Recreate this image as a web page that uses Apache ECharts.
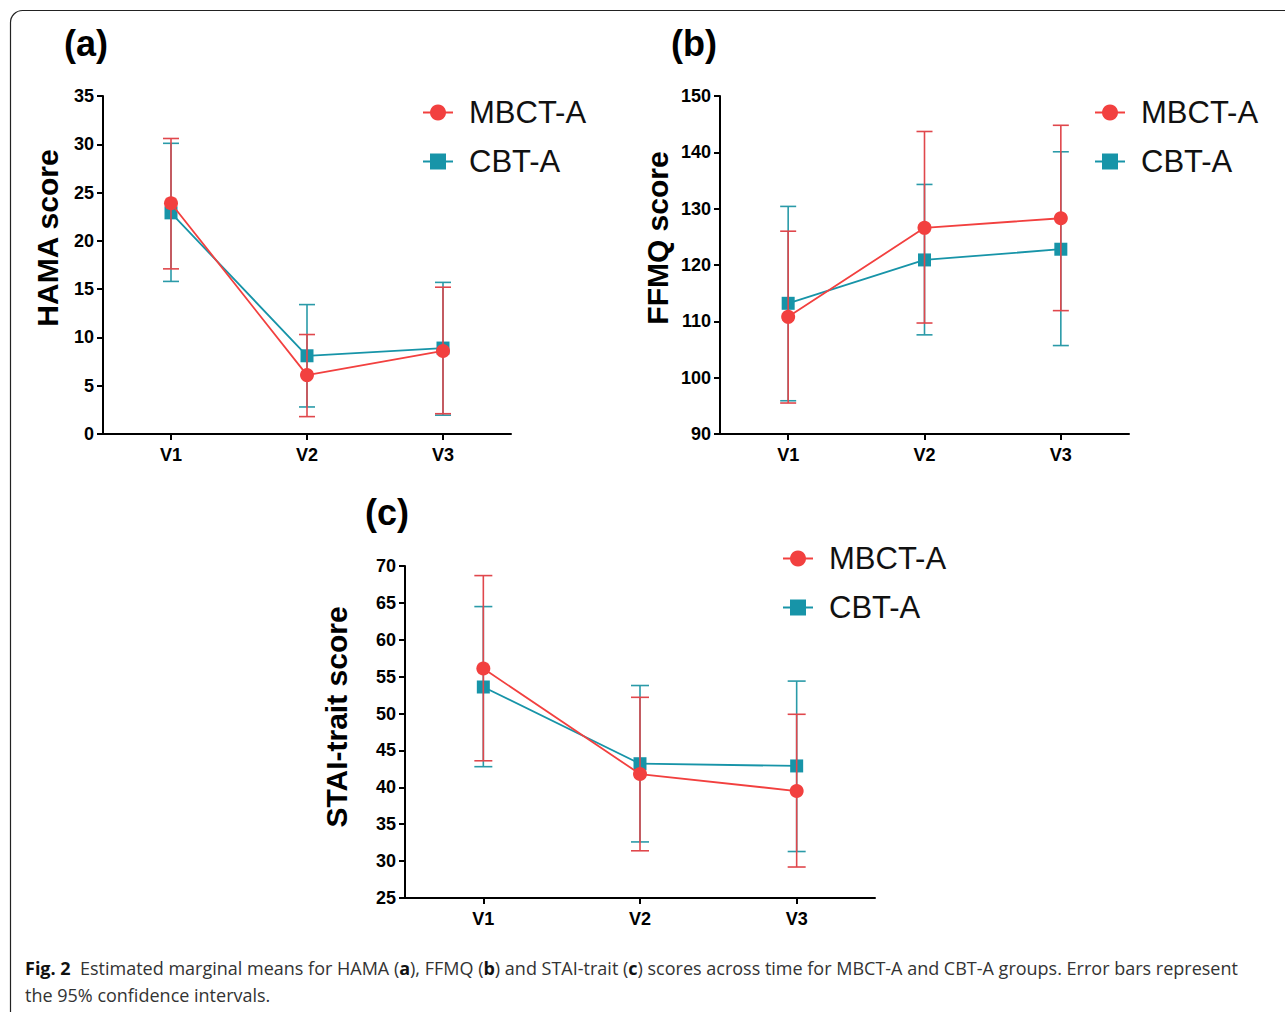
<!DOCTYPE html>
<html>
<head>
<meta charset="utf-8">
<script src="https://cdn.jsdelivr.net/npm/echarts@6/dist/echarts.min.js"></script>
<style>
html,body{margin:0;padding:0;background:#fff;}
#chart{width:1285px;height:1012px;}
</style>
</head>
<body>
<div id="chart"></div>
<script>
// ---------- data ----------
const categories = ['V1', 'V2', 'V3'];
const groupNames = ['MBCT-A', 'CBT-A'];

// (a) HAMA
const hamaMbctMean = [23.9, 6.1, 8.6];
const hamaMbctLow  = [17.1, 1.8, 2.1];
const hamaMbctHigh = [30.6, 10.3, 15.2];
const hamaCbtMean  = [22.9, 8.1, 8.9];
const hamaCbtLow   = [15.8, 2.8, 1.95];
const hamaCbtHigh  = [30.1, 13.4, 15.7];

// (b) FFMQ
const ffmqMbctMean = [110.8, 126.6, 128.3];
const ffmqMbctLow  = [95.5, 109.7, 111.9];
const ffmqMbctHigh = [126.0, 143.7, 144.8];
const ffmqCbtMean  = [113.2, 120.9, 122.8];
const ffmqCbtLow   = [95.9, 107.6, 105.7];
const ffmqCbtHigh  = [130.4, 134.3, 140.1];

// (c) STAI-trait
const staiMbctMean = [56.1, 41.8, 39.5];
const staiMbctLow  = [43.6, 31.4, 29.2];
const staiMbctHigh = [68.7, 52.2, 49.9];
const staiCbtMean  = [53.6, 43.2, 42.9];
const staiCbtLow   = [42.8, 32.6, 31.3];
const staiCbtHigh  = [64.5, 53.8, 54.4];

// axis ranges
const hamaAxis = {min: 0, max: 35, interval: 5};
const ffmqAxis = {min: 90, max: 150, interval: 10};
const staiAxis = {min: 25, max: 70, interval: 5};

// ---------- styles ----------
const RED = '#F2403F';
const RED_BAR = '#E0474C';
const TEAL = '#1794A8';
const TEAL_BAR = '#2A9AA8';
const AXIS_FONT = 'Liberation Sans, Arial, sans-serif';

const chart = echarts.init(document.getElementById('chart'), null, {renderer: 'svg'});

function errSeries(name, idx, low, high, color, capHalf, z) {
  return {
    type: 'custom', name: name, xAxisIndex: idx, yAxisIndex: idx, z: z,
    silent: true,
    data: categories.map((c, i) => [i, low[i], high[i]]),
    encode: {x: 0, y: [1, 2]},
    renderItem: function (params, api) {
      const x = api.value(0);
      const lo = api.coord([x, api.value(1)]);
      const hi = api.coord([x, api.value(2)]);
      const st = {stroke: color, lineWidth: 1.6};
      return {
        type: 'group',
        children: [
          {type: 'line', shape: {x1: lo[0], y1: lo[1], x2: hi[0], y2: hi[1]}, style: st},
          {type: 'line', shape: {x1: lo[0] - capHalf, y1: lo[1], x2: lo[0] + capHalf, y2: lo[1]}, style: st},
          {type: 'line', shape: {x1: hi[0] - capHalf, y1: hi[1], x2: hi[0] + capHalf, y2: hi[1]}, style: st}
        ]
      };
    }
  };
}

function lineSeries(name, idx, values, color, symbol, size, z) {
  return {
    type: 'line', name: name, xAxisIndex: idx, yAxisIndex: idx, z: z,
    data: values, symbol: symbol, symbolSize: size, showSymbol: true,
    lineStyle: {color: color, width: 1.8},
    itemStyle: {color: color, borderWidth: 0},
    emphasis: {disabled: true}, animation: false
  };
}

const grids = [
  {left: 103, top: 96, width: 408, height: 338},
  {left: 720, top: 96, width: 409, height: 338},
  {left: 405, top: 566, width: 470, height: 332}
];
const yRanges = [hamaAxis, ffmqAxis, staiAxis];

const xAxes = grids.map((g, i) => ({
  type: 'category', gridIndex: i, data: categories, boundaryGap: true,
  axisLine: {lineStyle: {color: '#000', width: 2}},
  axisTick: {show: true, alignWithLabel: true, length: 6, lineStyle: {color: '#000', width: 2}},
  axisLabel: {color: '#000', fontWeight: 'bold', fontSize: 18, fontFamily: AXIS_FONT, margin: 12},
  splitLine: {show: false}
}));
const yAxes = grids.map((g, i) => ({
  type: 'value', gridIndex: i, min: yRanges[i].min, max: yRanges[i].max, interval: yRanges[i].interval,
  axisLine: {show: true, lineStyle: {color: '#000', width: 2}},
  axisTick: {show: true, length: 6, lineStyle: {color: '#000', width: 2}},
  axisLabel: {color: '#000', fontWeight: 'bold', fontSize: 18, fontFamily: AXIS_FONT, margin: 9},
  splitLine: {show: false}
}));

const panels = [
  {mbct: [hamaMbctMean, hamaMbctLow, hamaMbctHigh], cbt: [hamaCbtMean, hamaCbtLow, hamaCbtHigh], cap: 8},
  {mbct: [ffmqMbctMean, ffmqMbctLow, ffmqMbctHigh], cbt: [ffmqCbtMean, ffmqCbtLow, ffmqCbtHigh], cap: 8},
  {mbct: [staiMbctMean, staiMbctLow, staiMbctHigh], cbt: [staiCbtMean, staiCbtLow, staiCbtHigh], cap: 9}
];

const series = [];
panels.forEach((p, i) => {
  series.push(errSeries('CBT-A CI', i, p.cbt[1], p.cbt[2], TEAL_BAR, p.cap, 2));
  series.push(lineSeries(groupNames[1], i, p.cbt[0], TEAL, 'rect', 13, 3));
  series.push(errSeries('MBCT-A CI', i, p.mbct[1], p.mbct[2], RED_BAR, p.cap, 4));
  series.push(lineSeries(groupNames[0], i, p.mbct[0], RED, 'circle', 14, 5));
});

const legendPos = [{left: 417, top: 92}, {left: 1089, top: 92}, {left: 777, top: 538}];
const legends = legendPos.map(p => ({
  left: p.left, top: p.top, orient: 'vertical', data: groupNames,
  itemWidth: 30, itemHeight: 20, itemGap: 18, selectedMode: false,
  textStyle: {color: '#111', fontSize: 31, fontFamily: AXIS_FONT, padding: [0, 0, 0, 11]}
}));

function vText(text, x, y) {
  return {
    type: 'text', x: x, y: y, rotation: Math.PI / 2,
    style: {text: text, fill: '#000', font: 'bold 30px Liberation Sans, Arial, sans-serif',
            textAlign: 'center', textVerticalAlign: 'middle'}
  };
}
function panelLabel(text, x, y) {
  return {
    type: 'text', x: x, y: y,
    style: {text: text, fill: '#000', font: 'bold 36px Liberation Sans, Arial, sans-serif',
            textAlign: 'left', textVerticalAlign: 'middle'}
  };
}

const graphic = [
  {type: 'rect', shape: {x: 10.5, y: 10.5, width: 1400, height: 1100, r: 12},
   style: {fill: 'none', stroke: '#222', lineWidth: 1.2}, silent: true},
  panelLabel('(a)', 64, 43),
  panelLabel('(b)', 671, 43),
  panelLabel('(c)', 365, 512),
  vText('HAMA score', 47, 238),
  vText('FFMQ score', 657, 238),
  vText('STAI-trait score', 336, 717),
  {
    type: 'text', x: 25, y: 954,
    style: {
      text: '{b|Fig. 2}  Estimated marginal means for HAMA ({b|a}), FFMQ ({b|b}) and STAI-trait ({b|c}) scores across time for MBCT-A and CBT-A groups. Error bars represent\nthe 95% confidence intervals.',
      fill: '#333', font: '18px Open Sans, sans-serif', lineHeight: 27,
      rich: {
        b: {fontWeight: 'bold', fontSize: 18, fontFamily: 'Open Sans, sans-serif', fill: '#111', lineHeight: 27}
      }
    }
  }
];

chart.setOption({
  animation: false,
  backgroundColor: '#fff',
  grid: grids,
  xAxis: xAxes,
  yAxis: yAxes,
  legend: legends,
  series: series,
  graphic: graphic
});
</script>
</body>
</html>
